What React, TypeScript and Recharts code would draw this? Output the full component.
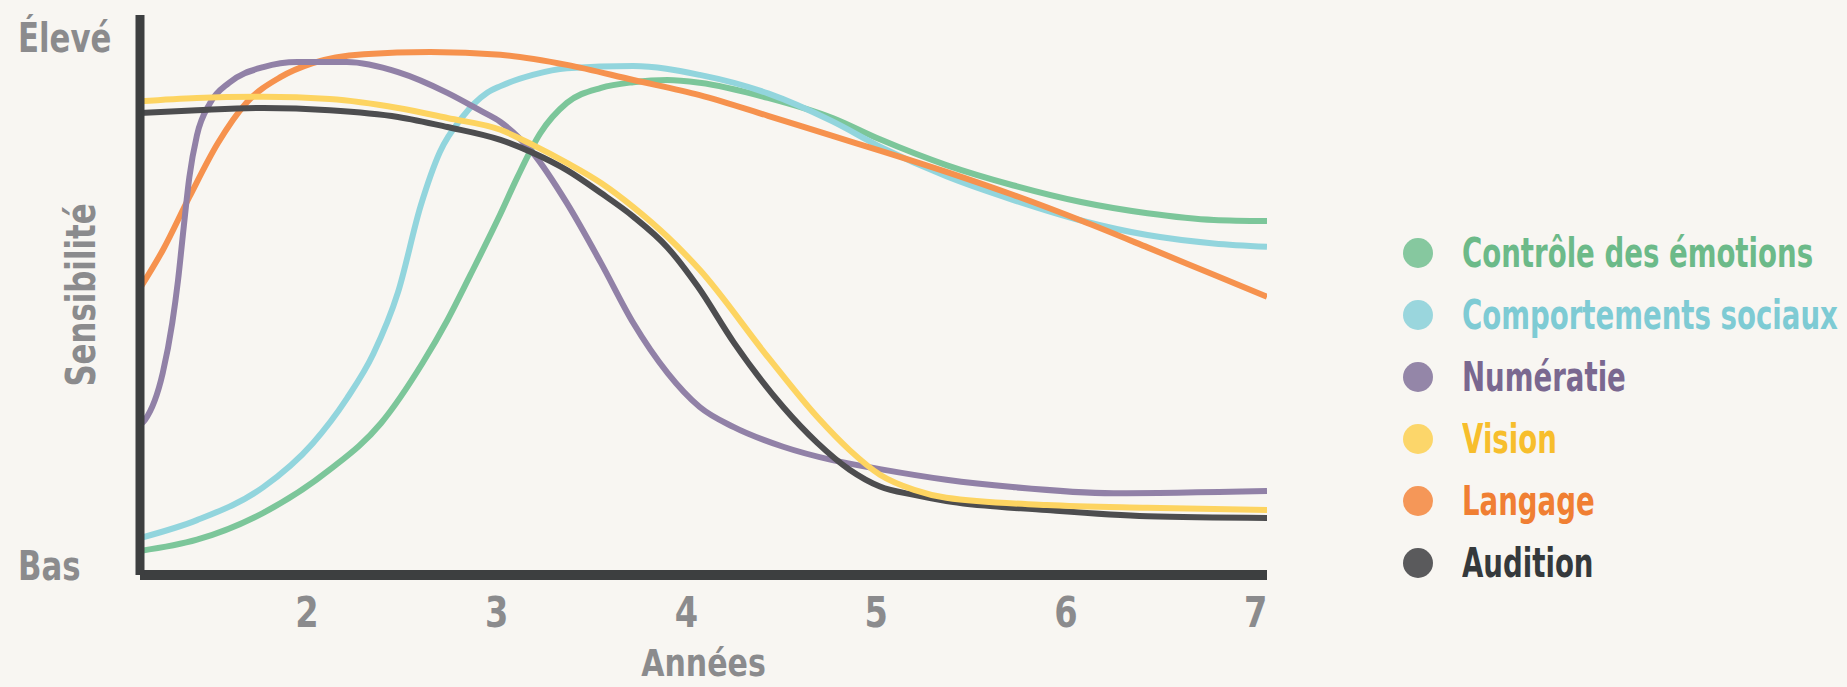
import React from 'react';
import { LineChart, Line, XAxis, YAxis, Legend } from 'recharts';

type Pt = [number, number];

// [age in years, sensitivity 0..100]
const emotions: Pt[] = [
  [1.12, 4.3], [1.42, 6.3], [1.77, 11.1], [2.12, 18.8], [2.39, 27.1], [2.61, 37.9],
  [2.74, 45.5], [2.86, 53.5], [3.02, 64.5], [3.11, 71.1], [3.23, 78.9], [3.37, 84.3],
  [3.55, 87.0], [3.72, 88.0], [3.9, 88.4], [4.07, 87.9], [4.43, 85.2], [4.77, 81.6],
  [5.02, 77.8], [5.37, 73.2], [5.72, 69.6], [6.08, 66.6], [6.43, 64.6], [6.78, 63.4], [7.06, 63.2],
];

const social: Pt[] = [
  [1.12, 6.6], [1.42, 9.8], [1.77, 15.7], [2.03, 23.5], [2.21, 31.5], [2.35, 39.5],
  [2.48, 50.5], [2.6, 66.0], [2.7, 75.5], [2.82, 81.8], [2.95, 86.1], [3.02, 87.3],
  [3.19, 89.3], [3.37, 90.5], [3.72, 90.9], [4.07, 89.3], [4.43, 86.0], [4.77, 81.0],
  [5.02, 76.5], [5.37, 71.2], [5.72, 67.0], [6.08, 63.3], [6.43, 60.7], [6.78, 59.2], [7.06, 58.6],
];

const numeracy: Pt[] = [
  [1.12, 26.8], [1.146, 27.7], [1.24, 36.1], [1.29, 45.0], [1.32, 52.5], [1.35, 62.0],
  [1.38, 71.0], [1.42, 78.5], [1.49, 84.3], [1.59, 87.9], [1.77, 90.7], [1.95, 91.6], [2.21, 91.6],
  [2.48, 89.8], [2.74, 86.1], [2.91, 83.0], [3.02, 80.9], [3.19, 75.4], [3.37, 66.4],
  [3.55, 55.7], [3.72, 45.0], [3.9, 36.1], [4.07, 30.0], [4.25, 26.4], [4.51, 22.9],
  [4.77, 20.5], [5.02, 18.9], [5.37, 17.0], [5.72, 15.7], [6.25, 14.6], [7.06, 15.0],
];

const vision: Pt[] = [
  [1.12, 84.6], [1.42, 85.2], [1.77, 85.4], [2.12, 85.0], [2.48, 83.4], [2.74, 81.6],
  [3.02, 79.5], [3.19, 76.8], [3.37, 73.6], [3.55, 70.0], [3.72, 65.7], [3.9, 60.4],
  [4.07, 54.5], [4.43, 38.9], [4.69, 28.2], [4.86, 22.3], [5.02, 17.9], [5.2, 15.2],
  [5.37, 13.8], [5.9, 12.5], [6.43, 12.0], [7.06, 11.6],
];

const language: Pt[] = [
  [1.12, 51.2], [1.24, 58.0], [1.38, 67.5], [1.53, 77.1], [1.68, 84.3], [1.86, 88.9],
  [2.03, 91.4], [2.3, 93.0], [2.65, 93.4], [3.02, 92.9], [3.37, 91.1], [3.72, 88.4],
  [4.07, 85.7], [4.43, 82.0], [4.77, 78.4], [5.02, 75.8], [5.37, 72.0], [5.72, 67.9],
  [6.08, 63.3], [6.43, 58.5], [6.78, 53.6], [7.06, 49.7],
];

const hearing: Pt[] = [
  [1.12, 82.5], [1.42, 83.0], [1.77, 83.4], [2.12, 83.0], [2.48, 81.8], [2.74, 80.0],
  [3.02, 77.7], [3.19, 75.4], [3.37, 72.3], [3.55, 68.2], [3.72, 64.0], [3.9, 58.5],
  [4.06, 51.5], [4.25, 41.5], [4.51, 30.0], [4.69, 23.6], [4.86, 18.8], [5.02, 15.8],
  [5.2, 14.3], [5.37, 13.2], [5.9, 11.6], [6.43, 10.5], [7.06, 10.2],
];

const xTicks = [2, 3, 4, 5, 6, 7];
const yTicks = [1.6, 95.9];
const yTickLabels = ['Bas', 'Élevé'];

const series = [
  { name: 'Contrôle des émotions', points: emotions, line: '#7cc69a', dot: '#86c89f', text: '#6cba89' },
  { name: 'Comportements sociaux', points: social, line: '#92d5dd', dot: '#9ad6dd', text: '#7ecbd4' },
  { name: 'Numératie', points: numeracy, line: '#9181a7', dot: '#9486a8', text: '#7a6890' },
  { name: 'Vision', points: vision, line: '#fdd461', dot: '#fcd66a', text: '#f7be2c' },
  { name: 'Langage', points: language, line: '#f6924e', dot: '#f59758', text: '#f07f33' },
  { name: 'Audition', points: hearing, line: '#4d4d4f', dot: '#5a5a5c', text: '#35393c' },
];

// draw order (bottom to top)
const drawOrder = [0, 1, 4, 2, 5, 3];

const FONT = "'DejaVu Sans', sans-serif";
const GREY = '#8b8b8d';
const AXIS = '#3d3f40';
const BG = '#f8f6f2';
const SQUEEZE = 0.77; // the source font is a narrow condensed face

const YTick = ({ y, payload }: any) => (
  <text transform={`translate(18 ${y + 14}) scale(${SQUEEZE} 1)`} fontFamily={FONT} fontWeight={700} fontSize={40} fill={GREY} textAnchor="start">
    {yTickLabels[yTicks.indexOf(payload.value)]}
  </text>
);

const XTick = ({ x, payload }: any) => (
  <text transform={`translate(${x} 627) scale(0.8 1)`} fontFamily={FONT} fontWeight={700} fontSize={42} fill={GREY} textAnchor="middle">
    {payload.value}
  </text>
);

const YTitle = ({ viewBox }: any) => {
  const cy = viewBox.y + viewBox.height / 2;
  return (
    <text transform={`translate(95 ${cy}) rotate(-90) scale(${SQUEEZE} 1)`} fontFamily={FONT} fontWeight={700} fontSize={40} fill={GREY} textAnchor="middle">
      Sensibilité
    </text>
  );
};

const XTitle = ({ viewBox }: any) => (
  <text transform={`translate(${viewBox.x + viewBox.width / 2} ${viewBox.y + 101}) scale(0.79 1)`} fontFamily={FONT} fontWeight={700} fontSize={38} fill={GREY} textAnchor="middle">
    Années
  </text>
);

const LegendContent = () => (
  <div style={{ display: 'flex', flexDirection: 'column' }}>
    {series.map((s) => (
      <div key={s.name} style={{ display: 'flex', alignItems: 'center', height: 62 }}>
        <span style={{ display: 'inline-block', width: 30, height: 30, borderRadius: '50%', background: s.dot, marginRight: 29, flex: 'none' }} />
        <span
          style={{
            display: 'inline-block',
            fontFamily: FONT,
            fontWeight: 700,
            fontSize: 40,
            color: s.text,
            whiteSpace: 'nowrap',
            lineHeight: '62px',
            transform: 'scaleX(0.69)',
            transformOrigin: 'left center',
          }}
        >
          {s.name}
        </span>
      </div>
    ))}
  </div>
);

const App = () => (
  <div style={{ position: 'absolute', left: 0, top: 0, width: 1847, height: 687, background: BG, overflow: 'hidden' }}>
    <LineChart width={1847} height={687} margin={{ top: 15, right: 580, bottom: 0, left: 0 }}>
      <XAxis
        type="number"
        dataKey="x"
        domain={[1.12, 7.06]}
        ticks={xTicks}
        allowDataOverflow
        height={112}
        tickLine={false}
        axisLine={{ stroke: AXIS, strokeWidth: 10 }}
        tick={<XTick />}
        label={{ content: XTitle }}
      />
      <YAxis
        type="number"
        domain={[0, 100]}
        ticks={yTicks}
        allowDataOverflow
        width={140}
        tickLine={false}
        axisLine={{ stroke: AXIS, strokeWidth: 9 }}
        tick={<YTick />}
        label={{ content: YTitle }}
      />
      {drawOrder.map((i) => {
        const s = series[i];
        return (
          <Line
            key={s.name}
            name={s.name}
            data={s.points.map(([x, y]) => ({ x, y }))}
            dataKey="y"
            type="monotone"
            stroke={s.line}
            strokeWidth={6}
            dot={false}
            activeDot={false}
            isAnimationActive={false}
          />
        );
      })}
      <Legend
        layout="vertical"
        align="center"
        verticalAlign="middle"
        content={<LegendContent />}
        wrapperStyle={{ left: 1403, top: 222, width: 440, height: 372 }}
      />
    </LineChart>
  </div>
);

export default App;
